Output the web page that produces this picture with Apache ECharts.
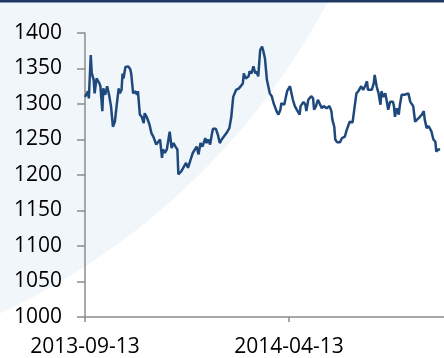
<!DOCTYPE html>
<html>
<head>
<meta charset="utf-8">
<script src="https://cdn.jsdelivr.net/npm/echarts@6/dist/echarts.min.js"></script>
<style>
html,body{margin:0;padding:0;background:#fff;}
#c{width:444px;height:358px;}
</style>
</head>
<body>
<div id="c"></div>
<script>
const startDate = '2013-09-13';
const tickLabels = ['2013-09-13', '2014-04-13'];
const dates = [
'2013-09-13','2013-09-15','2013-09-16','2013-09-17','2013-09-19','2013-09-20','2013-09-22','2013-09-23','2013-09-25','2013-09-27','2013-09-28','2013-09-29',
'2013-10-01','2013-10-02','2013-10-04','2013-10-06','2013-10-07','2013-10-08','2013-10-10','2013-10-12','2013-10-14','2013-10-16','2013-10-18','2013-10-19','2013-10-21','2013-10-22','2013-10-23','2013-10-25','2013-10-28','2013-10-30','2013-10-31',
'2013-11-02','2013-11-04','2013-11-06','2013-11-07','2013-11-09','2013-11-11','2013-11-13','2013-11-14','2013-11-16','2013-11-18','2013-11-19','2013-11-21','2013-11-23','2013-11-26','2013-11-30',
'2013-12-02','2013-12-03','2013-12-05','2013-12-07','2013-12-10','2013-12-12','2013-12-14','2013-12-16','2013-12-18','2013-12-19','2013-12-21','2013-12-22','2013-12-24','2013-12-27','2013-12-29','2013-12-31',
'2014-01-03','2014-01-07','2014-01-09','2014-01-11','2014-01-13','2014-01-16','2014-01-17','2014-01-19','2014-01-21','2014-01-23','2014-01-24','2014-01-27','2014-01-29','2014-01-31',
'2014-02-02','2014-02-04','2014-02-07','2014-02-10','2014-02-12','2014-02-14','2014-02-17','2014-02-20','2014-02-22','2014-02-24','2014-02-25','2014-02-27',
'2014-03-02','2014-03-03','2014-03-05','2014-03-07','2014-03-09','2014-03-10','2014-03-12','2014-03-14','2014-03-16','2014-03-17','2014-03-19','2014-03-21','2014-03-22','2014-03-24','2014-03-26','2014-03-28','2014-03-31',
'2014-04-02','2014-04-04','2014-04-05','2014-04-08','2014-04-11','2014-04-14','2014-04-16','2014-04-17','2014-04-19','2014-04-21','2014-04-24','2014-04-25','2014-04-28','2014-04-30',
'2014-05-01','2014-05-03','2014-05-06','2014-05-08','2014-05-09','2014-05-11','2014-05-13','2014-05-15','2014-05-17','2014-05-19','2014-05-22','2014-05-25','2014-05-27','2014-05-28','2014-05-30','2014-05-31',
'2014-06-02','2014-06-05','2014-06-07','2014-06-10','2014-06-12','2014-06-14','2014-06-15','2014-06-18','2014-06-20','2014-06-22','2014-06-24','2014-06-26','2014-06-27','2014-06-29',
'2014-07-01','2014-07-03','2014-07-04','2014-07-08','2014-07-10','2014-07-11','2014-07-13','2014-07-15','2014-07-17','2014-07-18','2014-07-20','2014-07-22','2014-07-23','2014-07-25','2014-07-27','2014-07-30','2014-07-31',
'2014-08-01','2014-08-03','2014-08-05','2014-08-06','2014-08-08','2014-08-11','2014-08-13','2014-08-15','2014-08-17','2014-08-18','2014-08-20','2014-08-22','2014-08-24','2014-08-25','2014-08-27','2014-08-29','2014-08-31',
'2014-09-01','2014-09-03','2014-09-05','2014-09-06','2014-09-08','2014-09-10','2014-09-12','2014-09-13','2014-09-15','2014-09-17'
];
const values = [
1310,1315,1318,1308,1369,1344,1334,1315,1336,1334,1329,1325,
1290,1322,1313,1325,1327,1313,1297,1268,1275,1299,1322,1315,1320,1343,1336,1352,1353,1349,1343,
1315,1318,1313,1318,1285,1282,1273,1287,1282,1275,1271,1259,1254,1243,1250,
1224,1236,1231,1236,1261,1238,1245,1240,1236,1201,1203,1205,1203,1217,1210,1208,
1231,1240,1229,1245,1240,1252,1245,1250,1243,1259,1265,1265,1257,1245,
1250,1252,1259,1266,1282,1310,1320,1322,1320,1329,1343,1336,
1339,1346,1343,1353,1343,1346,1339,1376,1381,1376,1364,1334,1336,1315,1311,1301,1290,
1285,1292,1301,1299,1318,1325,1327,1306,1297,1292,1285,1297,1303,1299,
1290,1306,1311,1308,1292,1297,1306,1308,1294,1297,1294,1297,1290,1278,1268,1250,
1246,1246,1252,1254,1264,1264,1275,1274,1275,1315,1318,1320,1325,1320,
1325,1332,1320,1320,1329,1341,1325,1315,1299,1318,1310,1315,1308,1292,1303,1303,1297,
1282,1294,1285,1297,1313,1313,1311,1315,1303,1301,1297,1275,1278,1280,1282,1285,1290,
1278,1266,1269,1268,1261,1250,1247,1233,1236,1236
];
const yMin = 1000, yMax = 1400, yStep = 50;
const xSpanDays = 373;
const tickStepDays = 212;

const DAY = 86400000;
function toUTC(s){ const p = s.split('-'); return Date.UTC(+p[0], +p[1]-1, +p[2]); }
const t0 = toUTC(startDate);
const seriesData = dates.map((d, i) => [(toUTC(d) - t0) / DAY, values[i]]);
function dayToLabel(v){
  const dt = new Date(t0 + v * DAY);
  const s = dt.toISOString().slice(0,10);
  return tickLabels.indexOf(s) >= 0 ? s : '';
}

const chart = echarts.init(document.getElementById('c'), null, {renderer:'canvas'});
const font = '"Open Sans", "Liberation Sans", sans-serif';
chart.setOption({
  animation: false,
  backgroundColor: '#ffffff',
  graphic: [
    { type: 'circle', z: -10, silent: true, shape: { cx: -300, cy: -330, r: 710 }, style: { fill: '#f1f6fb' } },
    { type: 'rect', z: 100, silent: true, shape: { x: 0, y: 0, width: 444, height: 2.5 }, style: { fill: '#1f3864' } }
  ],
  grid: { left: 85, right: 0, top: 33, bottom: 40, containLabel: false },
  xAxis: {
    type: 'value', min: 0, max: xSpanDays, interval: tickStepDays,
    splitLine: { show: false },
    axisLine: { show: true, lineStyle: { color: '#8c8c8c', width: 1.5 } },
    axisTick: { show: true, inside: false, length: 5, lineStyle: { color: '#8c8c8c', width: 1.5 } },
    axisLabel: { showMaxLabel: false, margin: 20, color: '#000', fontSize: 21, fontFamily: font, formatter: dayToLabel }
  },
  yAxis: {
    type: 'value', min: yMin, max: yMax, interval: yStep,
    splitLine: { show: false },
    axisLine: { show: true, lineStyle: { color: '#8c8c8c', width: 1.5 } },
    axisTick: { show: true, inside: false, length: 8, lineStyle: { color: '#8c8c8c', width: 1.5 } },
    axisLabel: { margin: 23, color: '#000', fontSize: 21, fontFamily: font, formatter: v => String(v) }
  },
  series: [{
    type: 'line', data: seriesData, showSymbol: false, symbol: 'none',
    lineStyle: { color: '#1f497d', width: 2.5 }, z: 3
  }]
});
</script>
</body>
</html>
